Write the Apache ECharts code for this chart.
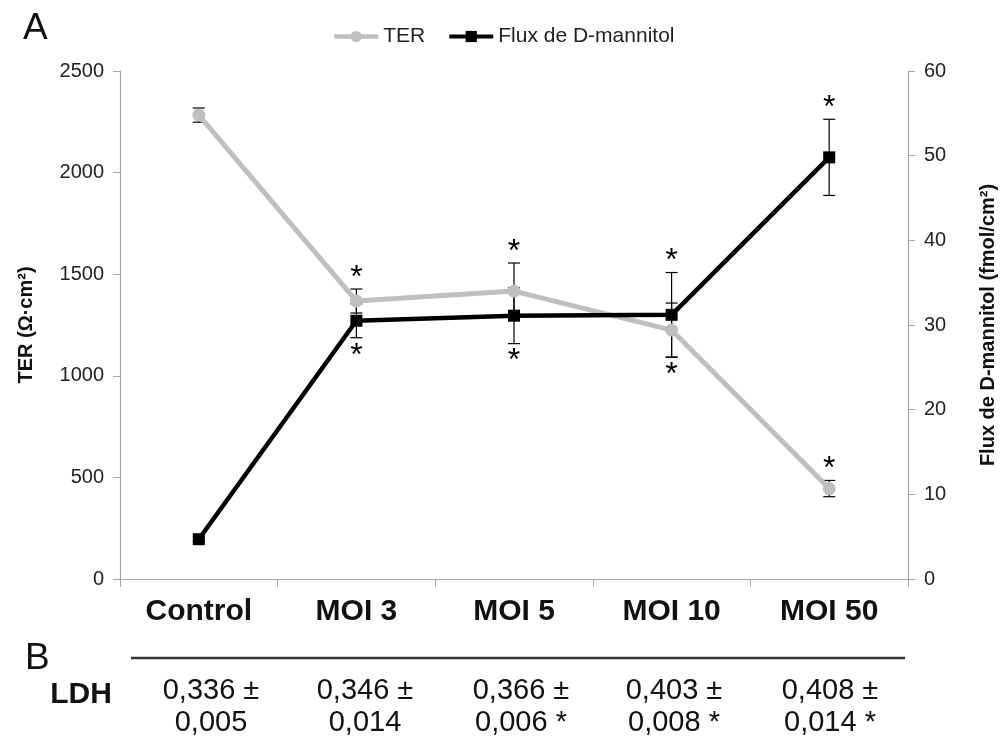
<!DOCTYPE html>
<html>
<head>
<meta charset="utf-8">
<script src="https://cdn.jsdelivr.net/npm/echarts@6/dist/echarts.min.js"></script>
<style>
html,body{margin:0;padding:0;background:#fff;}
#chart{width:1003px;height:751px;}
</style>
</head>
<body>
<div id="chart"></div>
<script>
// ---- data ----
const categories = ['Control', 'MOI 3', 'MOI 5', 'MOI 10', 'MOI 50'];
const terMean = [2283, 1368, 1417, 1225, 445];
const terErr = [35, 59, 138, 133, 40];
const fluxMean = [4.7, 30.5, 31.1, 31.2, 49.8];
const fluxErr = [0.3, 2.0, 3.3, 5.0, 4.5];
const terStarSide = ['', 'above', 'above', 'above', 'above'];
const fluxStarSide = ['', 'below', 'below', 'below', 'above'];
const terTicks = { min: 0, max: 2500, interval: 500 };
const fluxTicks = { min: 0, max: 60, interval: 10 };
const ldhMean = ['0,336', '0,346', '0,366', '0,403', '0,408'];
const ldhSd = ['0,005', '0,014', '0,006', '0,008', '0,014'];
const ldhSig = [false, false, true, true, true];

// ---- layout ----
const FONT = '"Liberation Sans", Arial, Helvetica, sans-serif';
const tableColX = [211, 365, 521, 674, 830];
const GRAY = '#BFBFBF';
const AXIS = '#A6A6A6';

const chart = echarts.init(document.getElementById('chart'), null, { renderer: 'canvas' });

const ratio = terTicks.max / fluxTicks.max; // flux -> TER units
function ranges(i) {
  const t = [terMean[i] - terErr[i], terMean[i] + terErr[i]];
  const f = [(fluxMean[i] - fluxErr[i]) * ratio, (fluxMean[i] + fluxErr[i]) * ratio];
  return { t, f };
}
const starData = [];
categories.forEach((c, i) => {
  const r = ranges(i);
  const overlap = r.t[0] <= r.f[1] && r.f[0] <= r.t[1];
  const sides = [[terStarSide[i], r.t, r.f], [fluxStarSide[i], r.f, r.t]];
  sides.forEach(([side, own, other]) => {
    if (!side) return;
    const lo = overlap ? Math.min(own[0], other[0]) : own[0];
    const hi = overlap ? Math.max(own[1], other[1]) : own[1];
    starData.push([i, side === 'above' ? hi : lo, side === 'above' ? 1 : -1]);
  });
});

function errRender(params, api) {
  const x = api.value(0);
  const p1 = api.coord([x, api.value(1)]);
  const p2 = api.coord([x, api.value(2)]);
  const w = 6;
  const st = { stroke: '#000', lineWidth: 1.2 };
  return {
    type: 'group',
    children: [
      { type: 'line', shape: { x1: p1[0], y1: p1[1], x2: p2[0], y2: p2[1] }, style: st },
      { type: 'line', shape: { x1: p1[0] - w, y1: p1[1], x2: p1[0] + w, y2: p1[1] }, style: st },
      { type: 'line', shape: { x1: p2[0] - w, y1: p2[1], x2: p2[0] + w, y2: p2[1] }, style: st }
    ]
  };
}

function starRender(params, api) {
  const p = api.coord([api.value(0), api.value(1)]);
  const side = api.value(2);
  const y = side > 0 ? p[1] - 19 : p[1] + 10;
  return {
    type: 'text',
    style: {
      text: '*', x: p[0], y: y + 8, align: 'center', verticalAlign: 'middle',
      font: '32px ' + FONT, fill: '#000'
    }
  };
}

const graphics = [
  { type: 'text', left: 23, top: 10, style: { text: 'A', font: '37px ' + FONT, fill: '#111' } },
  { type: 'text', left: 25, top: 640, style: { text: 'B', font: '37px ' + FONT, fill: '#111' } },
  { type: 'line', shape: { x1: 131, y1: 658, x2: 905, y2: 658 }, style: { stroke: '#333', lineWidth: 2.5 } },
  { type: 'text', x: 81, y: 695, style: { text: 'LDH', font: 'bold 30px ' + FONT, fill: '#111', align: 'center', verticalAlign: 'middle' } }
];
categories.forEach((c, i) => {
  graphics.push({ type: 'text', x: tableColX[i], y: 691, style: { text: ldhMean[i] + ' ±', font: '29px ' + FONT, fill: '#111', align: 'center', verticalAlign: 'middle' } });
  graphics.push({ type: 'text', x: tableColX[i], y: 723, style: { text: ldhSd[i] + (ldhSig[i] ? ' *' : ''), font: '29px ' + FONT, fill: '#111', align: 'center', verticalAlign: 'middle' } });
});

const plain = v => String(v);

const option = {
  animation: false,
  backgroundColor: '#fff',
  textStyle: { fontFamily: FONT },
  legend: {
    left: 327, top: 21, itemWidth: 44, itemHeight: 14, itemGap: 22,
    textStyle: { fontSize: 21, color: '#222', fontFamily: FONT },
    data: [
      { name: 'TER', lineStyle: { width: 4.5, color: GRAY } },
      { name: 'Flux de D-mannitol', lineStyle: { width: 4, color: '#000' } }
    ]
  },
  grid: { left: 120, right: 95, top: 71, bottom: 172, containLabel: false, outerBoundsMode: 'none' },
  xAxis: {
    type: 'category', data: categories, boundaryGap: true,
    axisLine: { lineStyle: { color: AXIS, width: 1.2 } },
    axisTick: { show: true, length: 8, lineStyle: { color: AXIS } },
    axisLabel: { fontSize: 30, fontWeight: 'bold', color: '#111', margin: 18, fontFamily: FONT }
  },
  yAxis: [
    {
      type: 'value', min: terTicks.min, max: terTicks.max, interval: terTicks.interval,
      name: 'TER (Ω·cm²)', nameLocation: 'middle', nameRotate: 90, nameGap: 84,
      nameTextStyle: { fontSize: 20, fontWeight: 'bold', color: '#111', fontFamily: FONT },
      axisLine: { show: true, lineStyle: { color: AXIS, width: 1.2 } },
      axisTick: { show: true, length: 7, lineStyle: { color: AXIS } },
      axisLabel: { fontSize: 20, color: '#222', margin: 16, fontFamily: FONT, formatter: plain },
      splitLine: { show: false }
    },
    {
      type: 'value', min: fluxTicks.min, max: fluxTicks.max, interval: fluxTicks.interval, position: 'right',
      name: 'Flux de D-mannitol (fmol/cm²)', nameLocation: 'middle', nameRotate: 90, nameGap: 70,
      nameTextStyle: { fontSize: 20, fontWeight: 'bold', color: '#111', fontFamily: FONT },
      axisLine: { show: true, lineStyle: { color: AXIS, width: 1.2 } },
      axisTick: { show: true, length: 7, lineStyle: { color: AXIS } },
      axisLabel: { fontSize: 20, color: '#222', margin: 16, fontFamily: FONT, formatter: plain },
      splitLine: { show: false }
    }
  ],
  series: [
    {
      type: 'custom', yAxisIndex: 0, z: 1, renderItem: errRender,
      encode: { x: 0, y: [1, 2] },
      data: terMean.map((v, i) => [i, v - terErr[i], v + terErr[i]])
    },
    {
      type: 'custom', yAxisIndex: 1, z: 1, renderItem: errRender,
      encode: { x: 0, y: [1, 2] },
      data: fluxMean.map((v, i) => [i, v - fluxErr[i], v + fluxErr[i]])
    },
    {
      name: 'TER', type: 'line', yAxisIndex: 0, z: 3, data: terMean,
      symbol: 'circle', symbolSize: 13,
      lineStyle: { color: GRAY, width: 5 }, itemStyle: { color: GRAY }
    },
    {
      name: 'Flux de D-mannitol', type: 'line', yAxisIndex: 1, z: 4, data: fluxMean,
      symbol: 'rect', symbolSize: 12,
      lineStyle: { color: '#000', width: 4.5 }, itemStyle: { color: '#000' }
    },
    {
      type: 'custom', yAxisIndex: 0, z: 5, renderItem: starRender,
      encode: { x: 0, y: 1 }, data: starData
    }
  ],
  graphic: graphics
};
chart.setOption(option);
</script>
</body>
</html>
